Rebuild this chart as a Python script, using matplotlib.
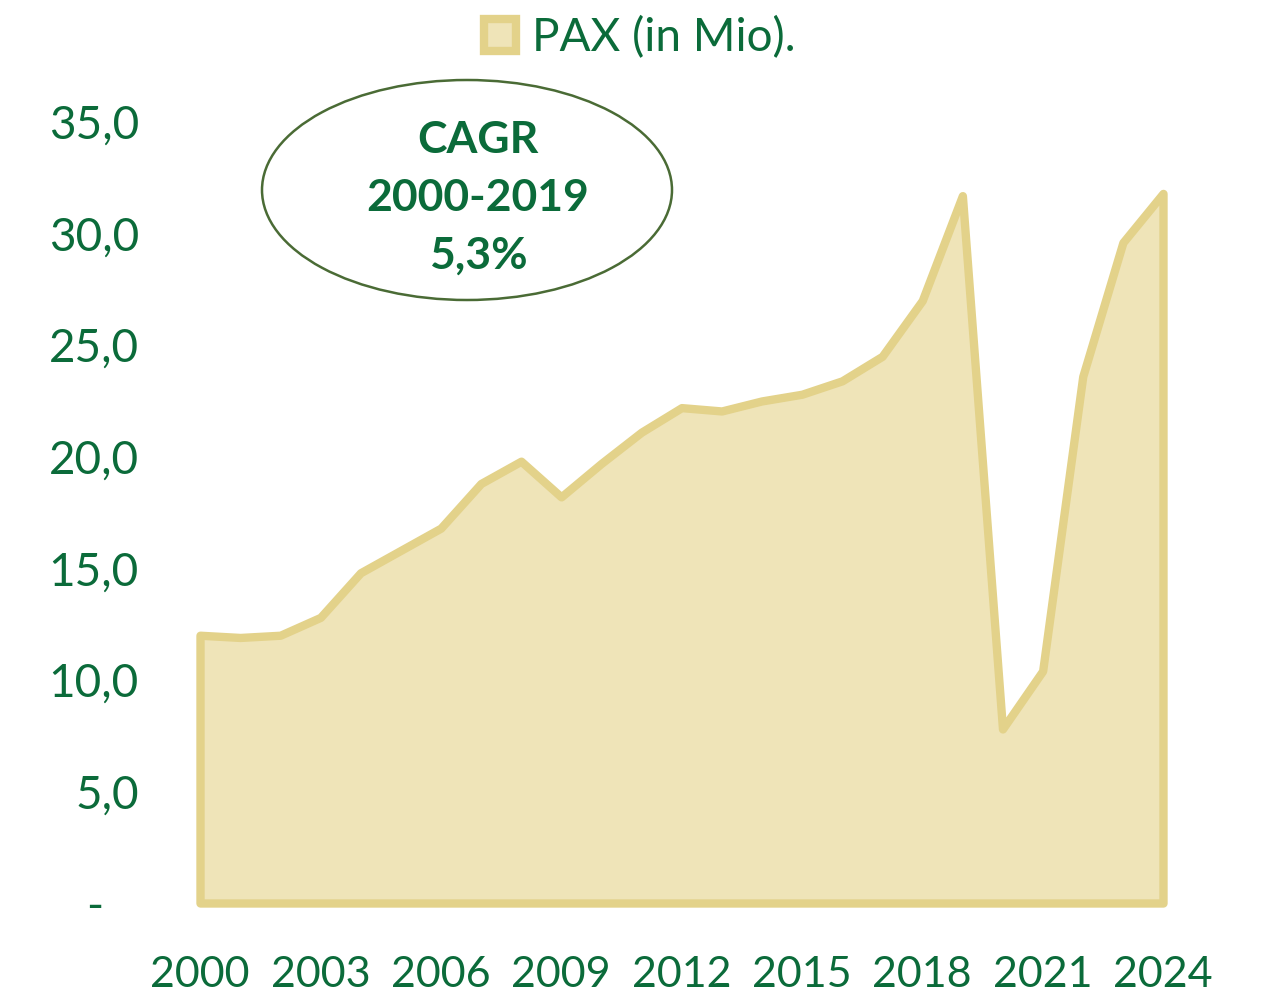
import matplotlib.pyplot as plt
import numpy as np
from matplotlib.patches import Ellipse, Patch

years = list(range(2000, 2025))
pax = [12.0, 11.9, 12.0, 12.8, 14.8, 15.8, 16.8, 18.8, 19.8, 18.2, 19.7, 21.1,
       22.2, 22.05, 22.5, 22.8, 23.4, 24.5, 27.0, 31.7, 7.8, 10.4, 23.6, 29.6, 31.8]
xticks = [2000, 2003, 2006, 2009, 2012, 2015, 2018, 2021, 2024]
yticks = [0, 5, 10, 15, 20, 25, 30, 35]
ylabels = ['-   ', '5,0', '10,0', '15,0', '20,0', '25,0', '30,0', '35,0']

green = '#0B6B3A'
fill_col = '#EFE4B8'
edge_col = '#E3D28A'

plt.rcParams['font.family'] = ['Lato', 'DejaVu Sans']

fig = plt.figure(figsize=(12.64, 9.94), dpi=100)
ax = fig.add_axes([200/1264, 91/994, 963/1264, 781/994])

poly = ax.fill_between(years, pax, 0, facecolor=fill_col, edgecolor=edge_col,
                       linewidth=6, joinstyle='round', clip_on=False, zorder=2)

ax.set_xlim(2000, 2024)
ax.set_ylim(0, 35)
ax.set_xticks(xticks)
ax.set_xticklabels([str(y) for y in xticks])
ax.set_yticks(yticks)
ax.set_yticklabels(ylabels)
ax.tick_params(axis='both', length=0, labelcolor=green)
ax.tick_params(axis='y', labelsize=33, pad=44)
ax.tick_params(axis='x', labelsize=31, pad=38)
for s in ax.spines.values():
    s.set_visible(False)

# CAGR bubble
ell = Ellipse((467/1264, 1 - 190/994), 410/1264, 220/994, transform=fig.transFigure,
              facecolor='white', edgecolor='#4A6B35', linewidth=1.8, zorder=5)
fig.patches.append(ell)
fig.text(478/1264, 1 - 198/994, 'CAGR\n2000-2019\n5,3%', ha='center', va='center',
         fontsize=32, fontweight='bold', color=green, linespacing=1.55, zorder=6)

handle = Patch(facecolor=fill_col, edgecolor=edge_col, linewidth=6)
fig.legend(handles=[handle], labels=['PAX (in Mio).'], loc='upper center',
           bbox_to_anchor=(640/1264, 1.025), frameon=False, fontsize=33,
           labelcolor=green, handlelength=0.7, handleheight=0.7, handletextpad=0.35)

fig.savefig('out.png', dpi=100)
